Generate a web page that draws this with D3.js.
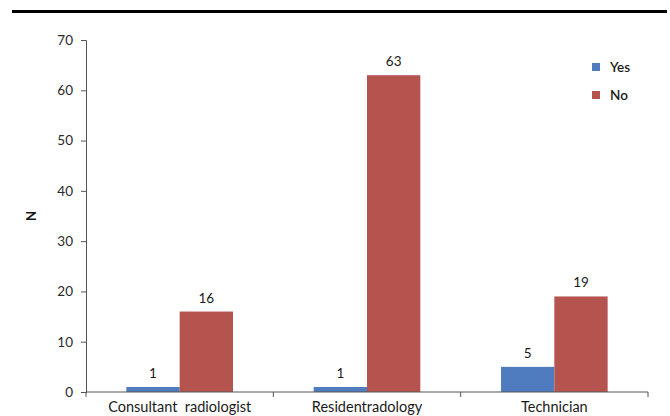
<!DOCTYPE html>
<html>
<head>
<meta charset="utf-8">
<script src="https://cdn.jsdelivr.net/npm/d3@7"></script>
<style>
  html, body { margin: 0; padding: 0; background: #fff; }
  svg { display: block; }
  text { font-family: Lato, "Open Sans", "Liberation Sans", sans-serif; }
</style>
</head>
<body>
<div id="chart"></div>
<script>
// Responses by staff group
const categories = ["Consultant  radiologist", "Residentradology", "Technician"];
const seriesNames = ["Yes", "No"];
const yesValues = [1, 1, 5];
const noValues = [16, 63, 19];
const yTicks = [0, 10, 20, 30, 40, 50, 60, 70];
const colors = { Yes: "#4f7bbf", No: "#b5534f" };

const W = 670, H = 416;
const plotLeft = 86, plotRight = 648, plotTop = 40, plotBottom = 392;

const svg = d3.select("#chart").append("svg")
  .attr("width", W).attr("height", H);

// heavy rule across the top of the figure
svg.append("rect")
  .attr("x", 12).attr("y", 10)
  .attr("width", 655).attr("height", 3)
  .attr("fill", "#000");

const rows = categories.map((c, i) => ({ cat: c, Yes: yesValues[i], No: noValues[i] }));

const x0 = d3.scaleBand().domain(categories).range([plotLeft, plotRight]).padding(0);
const x1 = d3.scaleBand().domain(seriesNames).range([0, x0.bandwidth()])
  .paddingInner(0).paddingOuter(0.757);
const y = d3.scaleLinear().domain([0, 70]).range([plotBottom, plotTop]);

// bars
const groups = svg.append("g").selectAll("g").data(rows).join("g")
  .attr("transform", d => `translate(${x0(d.cat)},0)`);

groups.selectAll("rect").data(d => seriesNames.map(k => ({ key: k, value: d[k] })))
  .join("rect")
  .attr("x", d => x1(d.key))
  .attr("y", d => y(d.value))
  .attr("width", x1.bandwidth())
  .attr("height", d => y(0) - y(d.value))
  .attr("fill", d => colors[d.key]);

// value labels
groups.selectAll("text.val").data(d => seriesNames.map(k => ({ key: k, value: d[k] })))
  .join("text")
  .attr("class", "val")
  .attr("x", d => x1(d.key) + x1.bandwidth() / 2)
  .attr("y", d => y(d.value) - 9)
  .attr("text-anchor", "middle")
  .attr("font-size", 13.5)
  .attr("fill", "#1a1a1a")
  .text(d => d.value);

// y axis
const yAxis = svg.append("g")
  .attr("transform", `translate(${plotLeft},0)`)
  .call(d3.axisLeft(y).tickValues(yTicks).tickSize(5).tickPadding(8));
yAxis.select(".domain").attr("stroke", "#555");
yAxis.selectAll(".tick line").attr("stroke", "#555");
yAxis.selectAll(".tick text").attr("font-size", 13.5).attr("fill", "#2a2a2a")
  .attr("font-family", "Lato, 'Open Sans', sans-serif");

// x axis with ticks between categories
const xAxisG = svg.append("g").attr("transform", `translate(0,${plotBottom})`);
xAxisG.append("line")
  .attr("x1", plotLeft).attr("x2", plotRight)
  .attr("y1", 0).attr("y2", 0)
  .attr("stroke", "#555");
const boundaries = categories.map(c => x0(c)).concat([x0(categories[categories.length - 1]) + x0.bandwidth()]);
xAxisG.selectAll("line.tk").data(boundaries).join("line")
  .attr("class", "tk")
  .attr("x1", d => d).attr("x2", d => d)
  .attr("y1", 0).attr("y2", 5)
  .attr("stroke", "#555");
xAxisG.selectAll("text.cat").data(categories).join("text")
  .attr("class", "cat")
  .attr("x", d => x0(d) + x0.bandwidth() / 2)
  .attr("y", 20)
  .attr("text-anchor", "middle")
  .attr("font-size", 14.5)
  .attr("fill", "#1a1a1a")
  .style("white-space", "pre")
  .text(d => d);

// y axis title
svg.append("text")
  .attr("transform", `translate(36,${(plotTop + plotBottom) / 2}) rotate(-90)`)
  .attr("text-anchor", "middle")
  .attr("font-size", 13)
  .attr("font-weight", "bold")
  .attr("fill", "#1a1a1a")
  .text("N");

// legend
const legend = svg.append("g").selectAll("g").data(seriesNames).join("g")
  .attr("transform", (d, i) => `translate(592,${63 + i * 28})`);
legend.append("rect")
  .attr("width", 8).attr("height", 8)
  .attr("fill", d => colors[d]);
legend.append("text")
  .attr("x", 18).attr("y", 4)
  .attr("dy", "0.35em")
  .attr("font-size", 13.5)
  .attr("font-weight", 600)
  .attr("fill", "#1a1a1a")
  .text(d => d);
</script>
</body>
</html>
